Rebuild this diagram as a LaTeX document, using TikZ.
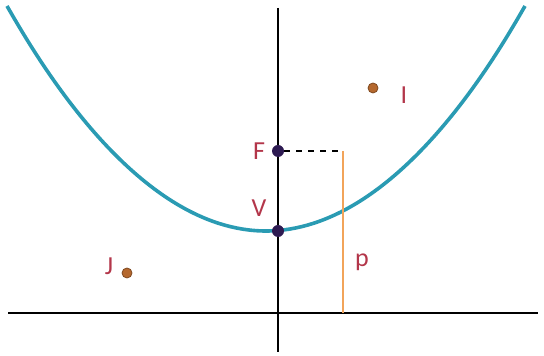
\documentclass[tikz,border=0pt]{standalone}
\usepackage{fontspec}
\setmainfont{Carlito}
\definecolor{curveteal}{HTML}{2A9BB3}
\definecolor{labelred}{HTML}{B3364A}
\definecolor{dotpurple}{HTML}{2E1B52}
\definecolor{dotbrown}{HTML}{B5682E}
\definecolor{lineorange}{HTML}{F2A45A}
\begin{document}
\begin{tikzpicture}[x=0.5pt, y=-0.5pt,
    lab/.style={text=labelred, font=\fontsize{13}{15}\selectfont, inner sep=0pt},
    keydot/.style={circle, fill=dotpurple, inner sep=0pt, minimum size=6pt},
    freedot/.style={circle, fill=dotbrown, draw=dotbrown!70!black, line width=0.4pt, inner sep=0pt, minimum size=5pt}]
    \useasboundingbox (0,0) rectangle (544,356);

    % axes
    \draw[line width=1pt] (8,313) -- (538,313);
    \draw[line width=1pt] (278,8) -- (278,352);

    % parabola
    \draw[curveteal, line width=1.8pt] (7,6) parabola bend (266,231) (525,6);

    % focus, vertex and the distance p
    \coordinate (corner) at (343,151);
    \coordinate (foot) at (343,313);
    \draw[lineorange, line width=1pt] (corner) -- (foot);
    \node[keydot] (F) at (278,151) {};
    \node[keydot] (V) at (278,231) {};
    \draw[dashed, line width=0.6pt] (F) -- (corner);
    \node[lab] at (259,151) {F};
    \node[lab] at (259,208) {V};
    \node[lab] at (362,262) {p};

    % the other points
    \node[freedot] (I) at (373,88) {};
    \node[lab] at (404,95) {I};
    \node[freedot] (J) at (127,273) {};
    \node[lab] at (109,266) {J};
\end{tikzpicture}
\end{document}
